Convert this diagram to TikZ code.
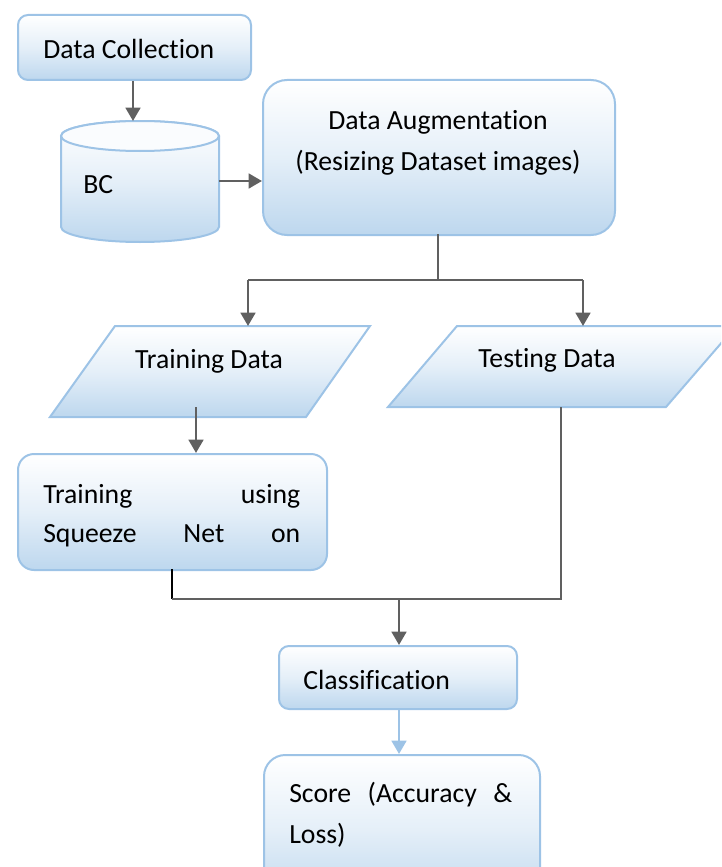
\documentclass[tikz,border=0pt]{standalone}
\usepackage{fontspec}
\setmainfont{Carlito}[Ligatures=NoCommon]
\usetikzlibrary{arrows.meta}
\definecolor{bord}{HTML}{9DC3E6}
\definecolor{fillb}{HTML}{BDD7EE}
\definecolor{arr}{HTML}{606060}
\tikzset{
  box/.style={draw=bord, line width=1.5pt, top color=white, bottom color=fillb, middle color=fillb!40, anchor=north west, inner sep=0pt},
  shp/.style={draw=bord, line width=1.5pt, top color=white, bottom color=fillb, middle color=fillb!40},
  txt/.style={font=\fontsize{20.8pt}{31pt}\selectfont, inner sep=0pt, anchor=base west},
  txtc/.style={font=\fontsize{20.8pt}{31pt}\selectfont, inner sep=0pt, anchor=base},
  arrow/.style={draw=arr, line width=2pt, -{Triangle[length=10pt,width=11pt]}},
  link/.style={draw=arr, line width=1.7pt},
  blink/.style={draw=black, line width=1.7pt},
  barrow/.style={draw=bord, line width=2pt, -{Triangle[length=10pt,width=11pt]}}
}
\begin{document}
\begin{tikzpicture}[x=0.75pt,y=-0.75pt]
\useasboundingbox (0,0) rectangle (721,867);
\begin{scope}
\clip (0,0) rectangle (721,867);
% boxes
\node[box, rounded corners=7.5pt, minimum width=233*0.75pt, minimum height=65*0.75pt] (dc) at (17,14) {};
\node[box, rounded corners=18pt, minimum width=352*0.75pt, minimum height=155*0.75pt] (aug) at (262,79) {};
\node[box, rounded corners=12pt, minimum width=309*0.75pt, minimum height=116*0.75pt] (tr) at (17,453) {};
\node[box, rounded corners=7.5pt, minimum width=238*0.75pt, minimum height=63*0.75pt] (cl) at (278,645) {};
\node[box, rounded corners=16pt, minimum width=276*0.75pt, minimum height=150*0.75pt] (sc) at (263,754) {};
% cylinder
\path[shp] (61,136) -- (61,227) arc[start angle=180, end angle=0, x radius=79, y radius=15] -- (219,136) arc[start angle=0, end angle=-180, x radius=79, y radius=15] -- cycle;
\draw[draw=bord, line width=1.5pt, fill=white!92!fillb] (140,136) ellipse[x radius=79, y radius=15];
\coordinate (bcR) at (219,181);
\coordinate (bcT) at (133,121);
% parallelograms
\path[shp] (115,326) -- (370,326) -- (306,417) -- (50,417) -- cycle;
\path[shp] (457,326) -- (736,326) -- (666,407) -- (388,407) -- cycle;
% texts
\node[txt] (dct) at (43,59) {Data Collection};
\node[txt] (bct) at (83,193) {BC};
\node[txtc] (augt1) at (438,129) {Data Augmentation};
\node[txtc] (augt2) at (438,170) {(Resizing Dataset images)};
\node[txtc] (trd) at (209,368) {Training Data};
\node[txtc] (ted) at (547,367) {Testing Data};
\node[txt] (trt1) at (43,503) {\makebox[192.75pt][s]{Training\hfill using}};
\node[txt] (trt2) at (43,542) {\makebox[192.75pt][s]{Squeeze\hfill Net\hfill on}};
\node[txt] (clt) at (303,689) {Classification};
\node[txt] (sct1) at (289,802) {\makebox[167.25pt][s]{Score\hfill(Accuracy\hfill\&}};
\node[txt] (sct2) at (289,843) {Loss)};
% connector coordinates
\coordinate (augB) at (438,234);
\coordinate (split) at (438,280);
\coordinate (sl) at (248,280);
\coordinate (sr) at (583,280);
\coordinate (trdT) at (248,326);
\coordinate (tedT) at (583,326);
\coordinate (trdB) at (196,407);
\coordinate (trT) at (196,453);
\coordinate (trB) at (172,569);
\coordinate (jl) at (172,599);
\coordinate (jr) at (561,599);
\coordinate (tedB) at (561,407);
\coordinate (jm) at (399,599);
\coordinate (clT) at (399,645);
\coordinate (clB) at (399,708);
\coordinate (scT) at (399,754);
\coordinate (augL) at (262,181);
% connectors
\draw[arrow] (dc.south -| bcT) -- (bcT);
\draw[arrow] (bcR) -- (augL);
\draw[link] (augB) -- (split);
\draw[link] (sl) -- (sr);
\draw[arrow] (sl) -- (trdT);
\draw[arrow] (sr) -- (tedT);
\draw[arrow] (trdB) -- (trT);
\draw[blink] (trB) -- (jl);
\draw[link] (jl) -- (jr) -- (tedB);
\draw[arrow] (jm) -- (clT);
\draw[barrow] (clB) -- (scT);
\end{scope}
\end{tikzpicture}
\end{document}
